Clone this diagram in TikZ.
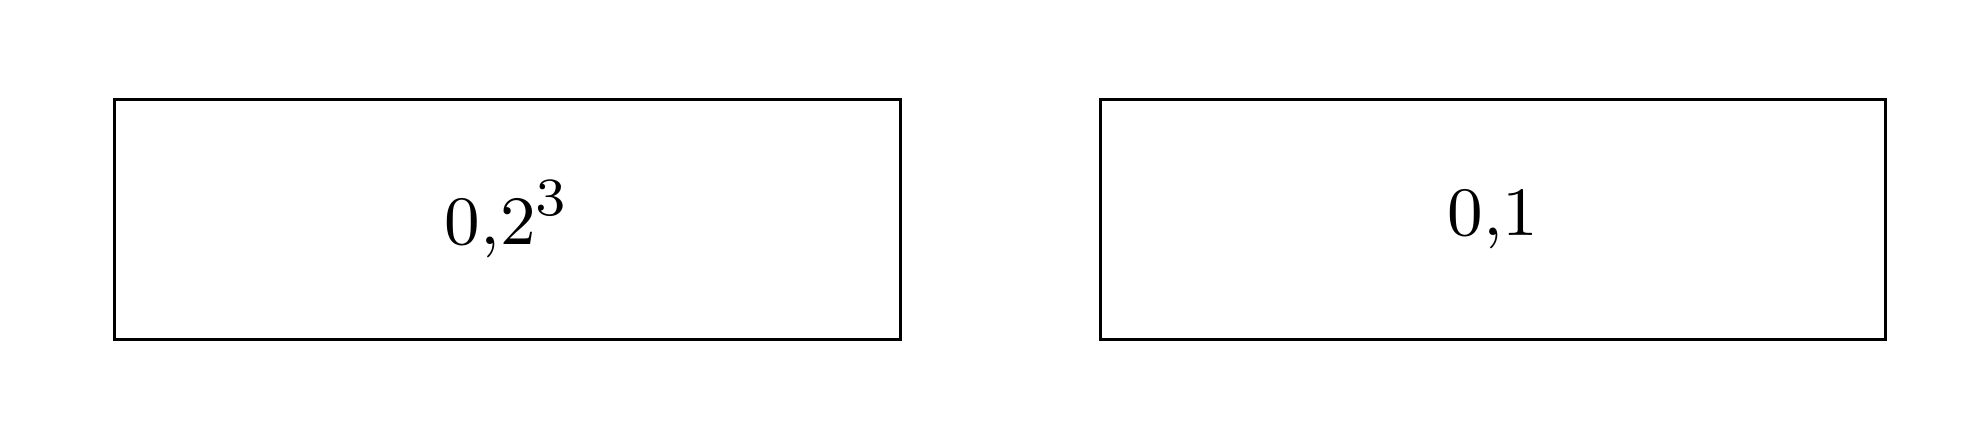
\documentclass[tikz,border=0pt]{standalone}
\usetikzlibrary{positioning}

\begin{document}
\begin{tikzpicture}[node distance=0.90cm, cell/.style={draw, minimum width=3.59cm, minimum height=1.10cm, font=\fontsize{9.3}{11}\selectfont}]
    \useasboundingbox (0,0) rectangle (9.0,2.015);
    % Nodes
    \node[cell] (first) at (2.32,1.012) {$0{,}2^3$};
    \node[cell, right=of first] (second) {$0{,}1$};
\end{tikzpicture}
\end{document}
